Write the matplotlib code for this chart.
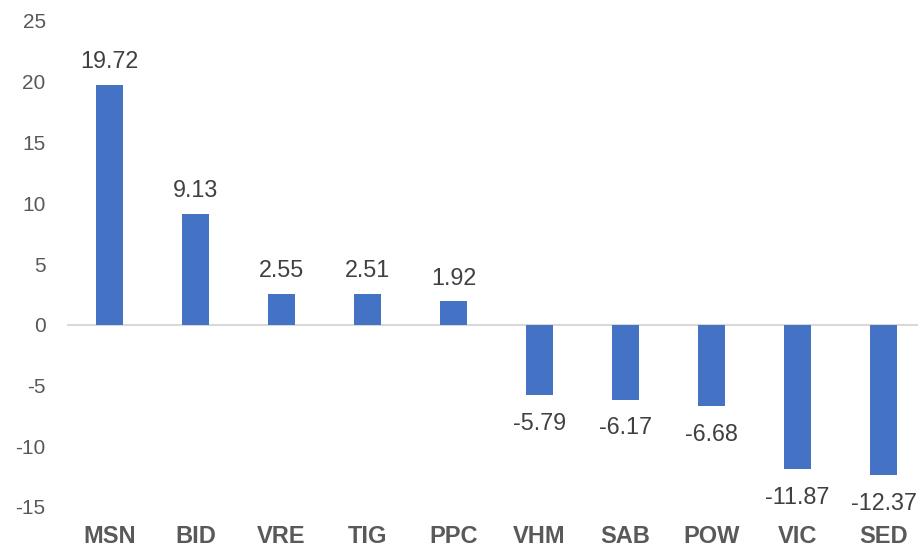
import numpy as np
import matplotlib
matplotlib.use('Agg')
import matplotlib.pyplot as plt

tickers = ['MSN', 'BID', 'VRE', 'TIG', 'PPC', 'VHM', 'SAB', 'POW', 'VIC', 'SED']
values = [19.72, 9.13, 2.55, 2.51, 1.92, -5.79, -6.17, -6.68, -11.87, -12.37]
yticks = [-15, -10, -5, 0, 5, 10, 15, 20, 25]

plt.rcParams['font.family'] = ['Liberation Sans', 'DejaVu Sans']
gray = '#595959'

fig = plt.figure(figsize=(9.18, 5.51), dpi=100)
# axes run past the right edge, as in the original
ax = fig.add_axes([66.5 / 918, 44 / 551, 860 / 918, 486 / 551])

x = np.arange(len(tickers))
bars = ax.bar(x, values, width=0.31, color='#4472C4', zorder=3)

for xi, v in zip(x, values):
    if v >= 0:
        ax.annotate(f'{v:.2f}', (xi, v), xytext=(0, 8.5), textcoords='offset points',
                    ha='center', va='bottom', fontsize=16.8, color='#404040')
    else:
        ax.annotate(f'{v:.2f}', (xi, v), xytext=(0, -12), textcoords='offset points',
                    ha='center', va='top', fontsize=16.8, color='#404040')

ax.axhline(0, color='#D9D9D9', linewidth=1.5, zorder=2)

ax.set_xlim(-0.5, len(tickers) - 0.5)
ax.set_ylim(-15, 25)
ax.set_yticks(yticks)
ax.set_yticklabels([str(t) for t in yticks], fontsize=15, color=gray)
ax.set_xticks(x)
ax.set_xticklabels(tickers, fontsize=17, fontweight='bold', color=gray)
ax.tick_params(axis='y', length=0, pad=15)
ax.tick_params(axis='x', length=0, pad=13)

for s in ax.spines.values():
    s.set_visible(False)

fig.savefig('out.png', dpi=100)
